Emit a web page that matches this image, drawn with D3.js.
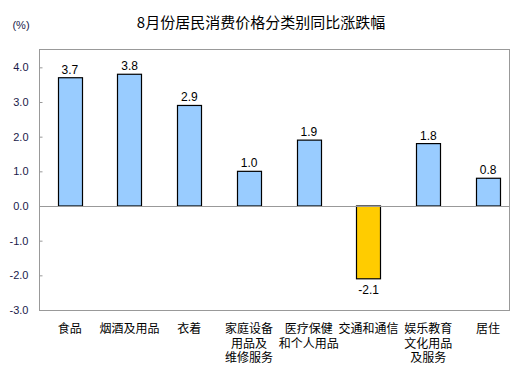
<!DOCTYPE html>
<html>
<head>
<meta charset="utf-8">
<script src="https://cdn.jsdelivr.net/npm/d3@7"></script>
<style>
  body { margin: 0; background: #fff; }
  text { font-family: Arial, "Liberation Sans", "Noto Sans CJK SC", sans-serif; }
  .cjk { font-family: "Noto Sans CJK SC", sans-serif; }
</style>
</head>
<body>
<script>
const categories = ["食品", "烟酒及用品", "衣着", "家庭设备\n用品及\n维修服务", "医疗保健\n和个人用品", "交通和通信", "娱乐教育\n文化用品\n及服务", "居住"];
const values = [3.7, 3.8, 2.9, 1.0, 1.9, -2.1, 1.8, 0.8];
const yTicks = [-3, -2, -1, 0, 1, 2, 3, 4];

const W = 531, H = 367;
const box = { left: 39.5, right: 509.5, top: 49.5, bottom: 310.5 };

const svg = d3.select("body").append("svg")
  .attr("width", W)
  .attr("height", H);

// title
svg.append("text")
  .attr("class", "cjk")
  .attr("x", 261)
  .attr("y", 28)
  .attr("text-anchor", "middle")
  .style("font-size", "15px")
  .style("fill", "#000")
  .text("8月份居民消费价格分类别同比涨跌幅");

svg.append("text")
  .attr("x", 21)
  .attr("y", 29)
  .attr("text-anchor", "middle")
  .style("font-size", "11px")
  .style("fill", "#1a1a4a")
  .text("(%)");

const y = d3.scaleLinear()
  .domain([-3, 4.5])
  .range([310, 50]);

const x = d3.scaleBand()
  .domain(categories)
  .range([40, 518])
  .paddingInner(0.59)
  .paddingOuter(0.295);

const fmt = d => d.toFixed(1);

// plot box
svg.append("rect")
  .attr("x", box.left)
  .attr("y", box.top)
  .attr("width", box.right - box.left)
  .attr("height", box.bottom - box.top)
  .attr("fill", "none")
  .attr("stroke", "#999")
  .attr("stroke-width", 1);

// y axis
const yAxis = svg.append("g")
  .attr("transform", `translate(${box.left},0)`)
  .call(d3.axisRight(y).tickValues(yTicks).tickSize(3).tickFormat(fmt));
yAxis.select(".domain").remove();
yAxis.selectAll(".tick line").attr("stroke", "#999");
yAxis.selectAll(".tick text")
  .attr("x", -11)
  .attr("text-anchor", "end")
  .style("font-size", "11px")
  .style("fill", "#1a1a4a");

// bars
svg.selectAll(".bar")
  .data(values)
  .enter()
  .append("rect")
  .attr("class", "bar")
  .attr("x", (d, i) => Math.round(x(categories[i])) + 0.5)
  .attr("y", d => y(Math.max(0, d)))
  .attr("width", Math.round(x.bandwidth()))
  .attr("height", d => Math.abs(y(d) - y(0)))
  .attr("fill", d => d < 0 ? "#ffcc00" : "#99ccff")
  .attr("stroke", "#000")
  .attr("stroke-width", 1.2);

// zero line
svg.append("line")
  .attr("x1", box.left)
  .attr("x2", box.right)
  .attr("y1", Math.round(y(0)) + 0.5)
  .attr("y2", Math.round(y(0)) + 0.5)
  .attr("stroke", "#999");

// value labels
svg.selectAll(".val")
  .data(values)
  .enter()
  .append("text")
  .attr("class", "val")
  .attr("x", (d, i) => x(categories[i]) + x.bandwidth() / 2)
  .attr("y", d => d < 0 ? y(d) + 15 : y(d) - 4)
  .attr("text-anchor", "middle")
  .style("font-size", "12px")
  .style("fill", "#000")
  .text(fmt);

// category labels, one text per line
const catLines = [];
categories.forEach(c => {
  c.split("\n").forEach((line, i) => catLines.push({ c, line, i }));
});

svg.selectAll(".cat")
  .data(catLines)
  .enter()
  .append("text")
  .attr("class", "cjk cat")
  .attr("x", d => x(d.c) + x.bandwidth() / 2)
  .attr("y", d => 333 + d.i * 14.5)
  .attr("text-anchor", "middle")
  .style("font-size", "12px")
  .style("fill", "#000")
  .text(d => d.line);
</script>
</body>
</html>
